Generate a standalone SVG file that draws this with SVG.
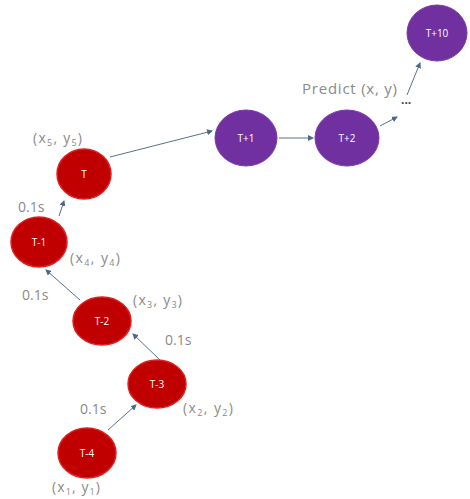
<svg xmlns="http://www.w3.org/2000/svg" width="470" height="499" viewBox="0 0 470 499">
<defs>
<marker id="ah" markerWidth="6" markerHeight="6" refX="5" refY="3" orient="auto" markerUnits="userSpaceOnUse">
<path d="M0,0 L6,3 L0,6 z" fill="#4a6a8a"/>
</marker>
</defs>
<style>
.red{fill:#c00000;stroke:#e02020;stroke-width:1.5}
.pur{fill:#7030a0;stroke:#7a3aa8;stroke-width:1}
.nl{font-family:"Open Sans","Liberation Sans",sans-serif;font-size:10px;fill:#fff;text-anchor:middle}
.lb{font-family:"Open Sans","Liberation Sans",sans-serif;font-size:14px;fill:#8a8a8a}
.sub{font-size:9px}
.c{stroke:#5a7088;stroke-width:1;fill:none;marker-end:url(#ah)}
</style>
<rect width="470" height="499" fill="#fff"/>
<g id="connectors">
<line class="c" x1="110" y1="157" x2="212" y2="131"/>
<line class="c" x1="279" y1="138" x2="313" y2="138"/>
<line class="c" x1="380" y1="126" x2="397" y2="117"/>
<line class="c" x1="407" y1="95" x2="420" y2="63"/>
<line class="c" x1="59" y1="216" x2="64" y2="201"/>
<line class="c" x1="80" y1="300" x2="46" y2="270"/>
<line class="c" x1="160" y1="360" x2="133" y2="334"/>
<line class="c" x1="108" y1="430" x2="136" y2="405"/>
</g>
<g id="T"><ellipse class="red" cx="84" cy="174" rx="27" ry="25"/><text class="nl" x="84" y="178">T</text></g>
<g id="T-1"><ellipse class="red" cx="39" cy="242" rx="28" ry="25"/><text class="nl" x="39" y="246">T-1</text></g>
<g id="T-2"><ellipse class="red" cx="102" cy="321" rx="29" ry="24"/><text class="nl" x="102" y="325">T-2</text></g>
<g id="T-3"><ellipse class="red" cx="157" cy="384" rx="29" ry="24"/><text class="nl" x="157" y="388">T-3</text></g>
<g id="T-4"><ellipse class="red" cx="87" cy="453" rx="29" ry="25"/><text class="nl" x="87" y="457">T-4</text></g>
<g id="T+1"><ellipse class="pur" cx="246" cy="138" rx="31" ry="28"/><text class="nl" x="246" y="142">T+1</text></g>
<g id="T+2"><ellipse class="pur" cx="347" cy="138" rx="32" ry="28"/><text class="nl" x="347" y="142">T+2</text></g>
<g id="T+10"><ellipse class="pur" cx="437" cy="33" rx="30" ry="28"/><text class="nl" x="437" y="37">T+10</text></g>
<g id="labels">
<text class="lb" x="33" y="143" textLength="49" lengthAdjust="spacing">(x<tspan class="sub" dy="3">5</tspan><tspan dy="-3">, y</tspan><tspan class="sub" dy="3">5</tspan><tspan dy="-3">)</tspan></text>
<text class="lb" x="70" y="263" textLength="50" lengthAdjust="spacing">(x<tspan class="sub" dy="3">4</tspan><tspan dy="-3">, y</tspan><tspan class="sub" dy="3">4</tspan><tspan dy="-3">)</tspan></text>
<text class="lb" x="133" y="305" textLength="49" lengthAdjust="spacing">(x<tspan class="sub" dy="3">3</tspan><tspan dy="-3">, y</tspan><tspan class="sub" dy="3">3</tspan><tspan dy="-3">)</tspan></text>
<text class="lb" x="183" y="413" textLength="50" lengthAdjust="spacing">(x<tspan class="sub" dy="3">2</tspan><tspan dy="-3">, y</tspan><tspan class="sub" dy="3">2</tspan><tspan dy="-3">)</tspan></text>
<text class="lb" x="52" y="492" textLength="48" lengthAdjust="spacing">(x<tspan class="sub" dy="3">1</tspan><tspan dy="-3">, y</tspan><tspan class="sub" dy="3">1</tspan><tspan dy="-3">)</tspan></text>
<text class="lb" x="18" y="212">0.1s</text>
<text class="lb" x="22" y="300">0.1s</text>
<text class="lb" x="165" y="345">0.1s</text>
<text class="lb" x="80" y="414">0.1s</text>
<text class="lb" x="302" y="94" style="font-size:15px" textLength="95" lengthAdjust="spacing">Predict (x, y)</text>
<text class="lb" x="401" y="104" style="fill:#444;font-weight:bold;font-size:12px">...</text>
</g>
</svg>
